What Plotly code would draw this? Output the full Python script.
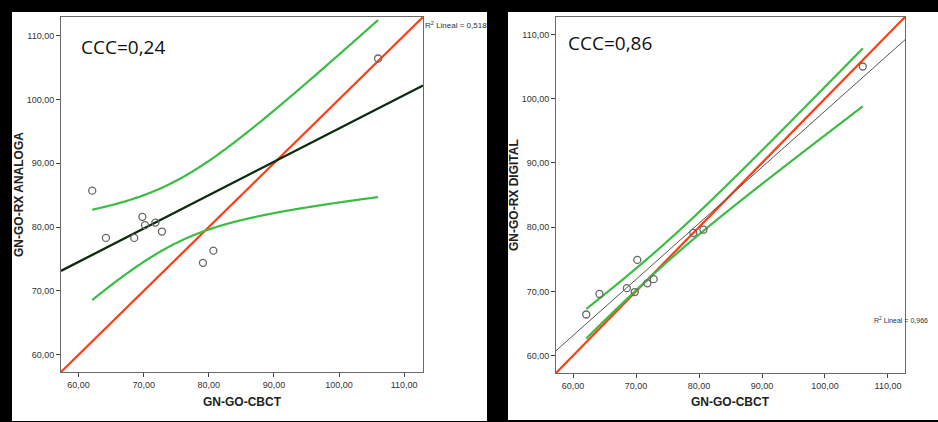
import numpy as np
import plotly.graph_objects as go

# ---- data ----
cbct = [62.1, 64.2, 68.55, 69.8, 70.2, 71.8, 72.8, 79.1, 80.7, 106.0]
rx_analoga = [85.7, 78.3, 78.3, 81.6, 80.3, 80.7, 79.3, 74.4, 76.3, 106.4]
rx_digital = [66.4, 69.6, 70.5, 69.9, 74.9, 71.25, 71.9, 79.1, 79.6, 105.0]
tick_vals = [60, 70, 80, 90, 100, 110]
tick_text = ["60,00", "70,00", "80,00", "90,00", "100,00", "110,00"]
ccc_left = "CCC=0,24"
ccc_right = "CCC=0,86"
r2_left = "0,518"
r2_right = "0,966"
T_CRIT = 2.306  # t(0.975, df=8)

W, H = 938, 422
RANGE_L = [57.3, 112.9]
RANGE_R = [57.3, 112.7]

GREEN = "#3cbc44"
RED = "#ff3c14"
PT = "#666666"


def fit(x, y):
    x = np.asarray(x, float)
    y = np.asarray(y, float)
    n = len(x)
    b, a = np.polyfit(x, y, 1)
    resid = y - (a + b * x)
    s = np.sqrt(np.sum(resid ** 2) / (n - 2))
    sxx = np.sum((x - x.mean()) ** 2)
    xs = np.linspace(x.min(), x.max(), 200)
    yh = a + b * xs
    hw = T_CRIT * s * np.sqrt(1 / n + (xs - x.mean()) ** 2 / sxx)
    return a, b, xs, yh - hw, yh + hw


def px(v, total):
    return v / total


fig = go.Figure()

panels = [
    dict(x=cbct, y=rx_analoga, rng=RANGE_L, xa="x", ya="y", fitcol="#0c2a10", fitw=2.3),
    dict(x=cbct, y=rx_digital, rng=RANGE_R, xa="x2", ya="y2", fitcol="#555555", fitw=1),
]

for p in panels:
    a, b, xs, lo, hi = fit(p["x"], p["y"])
    r0, r1 = p["rng"]
    fig.add_trace(go.Scatter(x=[r0, r1], y=[r0, r1], mode="lines",
                             line=dict(color=RED, width=2.2),
                             xaxis=p["xa"], yaxis=p["ya"], showlegend=False, hoverinfo="skip"))
    fig.add_trace(go.Scatter(x=[r0, r1], y=[a + b * r0, a + b * r1], mode="lines",
                             line=dict(color=p["fitcol"], width=p["fitw"]),
                             xaxis=p["xa"], yaxis=p["ya"], showlegend=False, hoverinfo="skip"))
    for band in (lo, hi):
        fig.add_trace(go.Scatter(x=xs, y=band, mode="lines",
                                 line=dict(color=GREEN, width=2.2, shape="spline"),
                                 xaxis=p["xa"], yaxis=p["ya"], showlegend=False, hoverinfo="skip"))
    fig.add_trace(go.Scatter(x=p["x"], y=p["y"], mode="markers",
                             marker=dict(symbol="circle-open", size=7, color=PT, line=dict(width=1.3, color=PT)),
                             xaxis=p["xa"], yaxis=p["ya"], showlegend=False))

axis_common = dict(
    tickvals=tick_vals, ticktext=tick_text, ticks="outside", ticklen=4, tickcolor="#444",
    showline=True, linecolor="#6a6a6a", linewidth=1, mirror=True, showgrid=False, zeroline=False,
    tickfont=dict(family="Liberation Sans, Arial", size=9, color="#333"),
)

fig.update_layout(
    width=W, height=H,
    margin=dict(l=0, r=0, t=0, b=0),
    paper_bgcolor="black",
    plot_bgcolor="white",
    xaxis=dict(domain=[px(61, W), px(423, W)], range=RANGE_L, anchor="y", **axis_common),
    yaxis=dict(domain=[1 - px(372, H), 1 - px(17, H)], range=RANGE_L, anchor="x", **axis_common),
    xaxis2=dict(domain=[px(556, W), px(905, W)], range=RANGE_R, anchor="y2", **axis_common),
    yaxis2=dict(domain=[1 - px(373, H), 1 - px(17, H)], range=RANGE_R, anchor="x2", **axis_common),
    shapes=[
        dict(type="rect", xref="paper", yref="paper", x0=px(12, W), x1=px(487, W),
             y0=1 - px(421, H), y1=1 - px(12, H), fillcolor="white", line=dict(width=0), layer="below"),
        dict(type="rect", xref="paper", yref="paper", x0=px(508, W), x1=1,
             y0=1 - px(420, H), y1=1 - px(12, H), fillcolor="white", line=dict(width=0), layer="below"),
    ],
)

title_font = dict(family="Liberation Sans, Arial", size=12, color="#222")
ann = []
ann.append(dict(text="<b>GN-GO-CBCT</b>", x=px(242, W), y=1 - px(402, H), xref="paper", yref="paper",
                showarrow=False, font=title_font, xanchor="center", yanchor="middle"))
ann.append(dict(text="<b>GN-GO-CBCT</b>", x=px(730, W), y=1 - px(402, H), xref="paper", yref="paper",
                showarrow=False, font=title_font, xanchor="center", yanchor="middle"))
ann.append(dict(text="<b>GN-GO-RX ANALOGA</b>", x=px(19, W), y=1 - px(195, H), xref="paper", yref="paper",
                showarrow=False, font=title_font, textangle=-90, xanchor="center", yanchor="middle"))
ann.append(dict(text="<b>GN-GO-RX DIGITAL</b>", x=px(514, W), y=1 - px(195, H), xref="paper", yref="paper",
                showarrow=False, font=title_font, textangle=-90, xanchor="center", yanchor="middle"))
ccc_font = dict(family="Open Sans, Noto Sans", size=19, color="#111")
ann.append(dict(text=ccc_left, x=px(79, W), y=1 - px(47, H), xref="paper", yref="paper",
                showarrow=False, font=ccc_font, xanchor="left", yanchor="middle"))
ann.append(dict(text=ccc_right, x=px(566, W), y=1 - px(43, H), xref="paper", yref="paper",
                showarrow=False, font=ccc_font, xanchor="left", yanchor="middle"))
ann.append(dict(text="R<sup>2</sup> Lineal = " + r2_left, x=px(423, W), y=1 - px(25, H), xref="paper", yref="paper",
                showarrow=False, font=dict(family="Liberation Sans, Arial", size=8, color="#333"),
                xanchor="left", yanchor="middle"))
ann.append(dict(text="R<sup>2</sup> Lineal = " + r2_right, x=px(872, W), y=1 - px(320, H), xref="paper", yref="paper",
                showarrow=False, font=dict(family="Liberation Sans, Arial", size=7, color="#333"),
                xanchor="left", yanchor="middle"))
fig.update_layout(annotations=ann)

fig.write_html("out.html", config={"displayModeBar": False},
               post_script="document.body.style.margin='0px';document.body.style.overflow='hidden';")
